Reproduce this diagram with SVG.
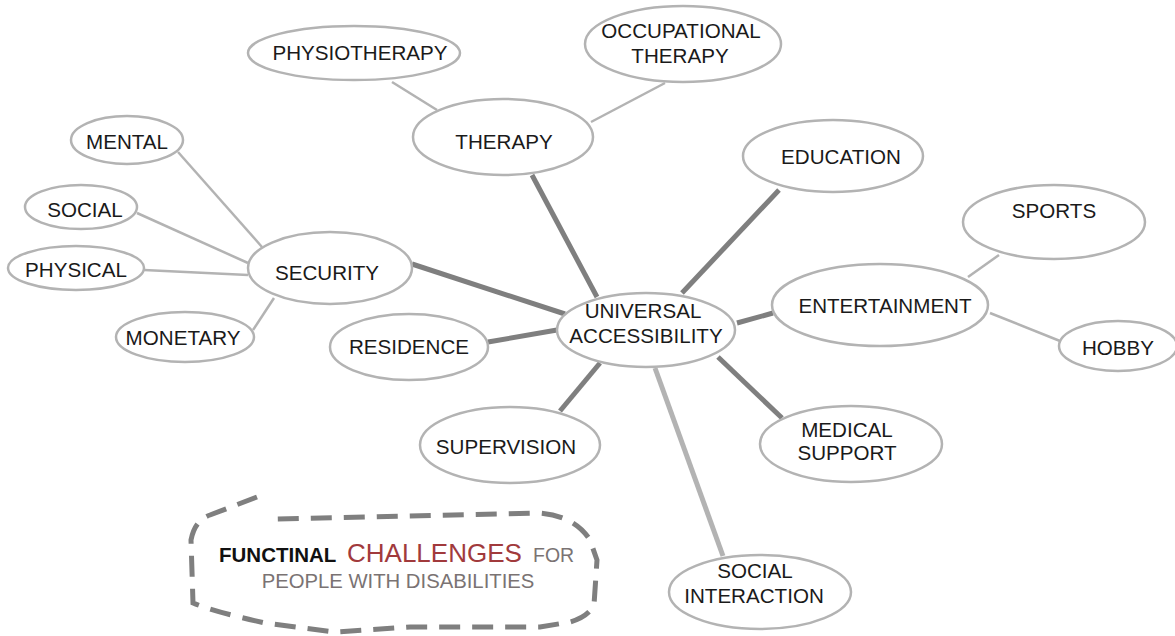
<svg xmlns="http://www.w3.org/2000/svg" width="1175" height="636" viewBox="0 0 1175 636">
<style>
.n ellipse{fill:#fff;stroke:#b3b3b3;stroke-width:2.5}
.n text{font-family:"Liberation Sans",Arial,sans-serif;font-size:20.6px;fill:#1a1a1a;text-anchor:middle}
.lt{stroke:#b3b3b3;stroke-width:2.5;fill:none}
.dk{stroke:#7f7f7f;stroke-width:5;fill:none}
.lk{stroke:#b3b3b3;stroke-width:5;fill:none}
.lg{font-family:"Liberation Sans",Arial,sans-serif}
</style>
<rect width="1175" height="636" fill="#fff"/>
<g id="connectors">
<line class="lt" x1="178" y1="152" x2="262" y2="247"/>
<line class="lt" x1="137" y1="213" x2="248" y2="263"/>
<line class="lt" x1="144" y1="270" x2="248" y2="275"/>
<line class="lt" x1="253" y1="330" x2="274" y2="298"/>
<line class="lt" x1="392" y1="82" x2="437" y2="110"/>
<line class="lt" x1="665" y1="83" x2="591" y2="122"/>
<line class="lt" x1="968" y1="277" x2="999" y2="255"/>
<line class="lt" x1="990" y1="313" x2="1060" y2="341"/>
<line class="dk" x1="532" y1="175" x2="597" y2="297"/>
<line class="dk" x1="779" y1="190" x2="682" y2="293"/>
<line class="dk" x1="412" y1="264" x2="565" y2="314"/>
<line class="dk" x1="488" y1="342" x2="557" y2="330"/>
<line class="dk" x1="737" y1="323" x2="773" y2="313"/>
<line class="dk" x1="600" y1="363" x2="560" y2="411"/>
<line class="dk" x1="718" y1="357" x2="782" y2="418"/>
<line class="lk" x1="655" y1="368" x2="723" y2="556"/>
</g>
<g id="universal" class="n"><ellipse cx="646" cy="330" rx="89" ry="37"/><text x="643" y="318">UNIVERSAL</text><text x="646" y="343">ACCESSIBILITY</text></g>
<g id="security" class="n"><ellipse cx="330" cy="268" rx="82" ry="36"/><text x="327" y="280">SECURITY</text></g>
<g id="mental" class="n"><ellipse cx="127" cy="140" rx="56" ry="24"/><text x="127" y="149">MENTAL</text></g>
<g id="social" class="n"><ellipse cx="81" cy="207" rx="56" ry="22"/><text x="85" y="217">SOCIAL</text></g>
<g id="physical" class="n"><ellipse cx="76" cy="268" rx="68" ry="22"/><text x="76" y="277">PHYSICAL</text></g>
<g id="monetary" class="n"><ellipse cx="185" cy="337" rx="69" ry="25"/><text x="183" y="345">MONETARY</text></g>
<g id="therapy" class="n"><ellipse cx="503" cy="137" rx="90" ry="38"/><text x="504" y="149">THERAPY</text></g>
<g id="physiotherapy" class="n"><ellipse cx="354" cy="53" rx="106" ry="27"/><text x="360" y="60">PHYSIOTHERAPY</text></g>
<g id="occupational" class="n"><ellipse cx="683" cy="44" rx="98" ry="38"/><text x="681" y="38">OCCUPATIONAL</text><text x="680" y="63">THERAPY</text></g>
<g id="education" class="n"><ellipse cx="833" cy="156" rx="90" ry="36"/><text x="841" y="164">EDUCATION</text></g>
<g id="sports" class="n"><ellipse cx="1054" cy="222" rx="91" ry="37"/><text x="1054" y="218">SPORTS</text></g>
<g id="entertainment" class="n"><ellipse cx="880" cy="305" rx="108" ry="41"/><text x="885" y="313">ENTERTAINMENT</text></g>
<g id="hobby" class="n"><ellipse cx="1118" cy="346" rx="59" ry="25"/><text x="1118" y="355">HOBBY</text></g>
<g id="residence" class="n"><ellipse cx="409" cy="347" rx="79" ry="33"/><text x="409" y="354">RESIDENCE</text></g>
<g id="supervision" class="n"><ellipse cx="510" cy="445" rx="90" ry="38"/><text x="506" y="454">SUPERVISION</text></g>
<g id="medical" class="n"><ellipse cx="851" cy="444" rx="91" ry="38"/><text x="847" y="437">MEDICAL</text><text x="847" y="460">SUPPORT</text></g>
<g id="socialinteraction" class="n"><ellipse cx="760" cy="592" rx="91" ry="37"/><text x="755" y="578">SOCIAL</text><text x="754" y="603">INTERACTION</text></g>
<g id="legend">
<path d="M257 497 L210 515 Q195 520 191 540 L193 603 Q215 612 265 623 L335 632 L410 627 L540 627 L570 622 Q588 617 594 605 L597 560 L590 540 Q575 516 540 513 L273 519" fill="none" stroke="#7f7f7f" stroke-width="5" stroke-dasharray="21 12"/>
<text class="lg" x="219" y="562" font-weight="bold" font-size="20.5" fill="#111">FUNCTINAL</text>
<text class="lg" x="347" y="562" font-size="26" fill="#a13a3c">CHALLENGES</text>
<text class="lg" x="533" y="562" font-size="19.5" fill="#7a7373">FOR</text>
<text class="lg" x="398" y="588" font-size="20.3" fill="#7a7373" text-anchor="middle">PEOPLE WITH DISABILITIES</text>
</g>
</svg>
